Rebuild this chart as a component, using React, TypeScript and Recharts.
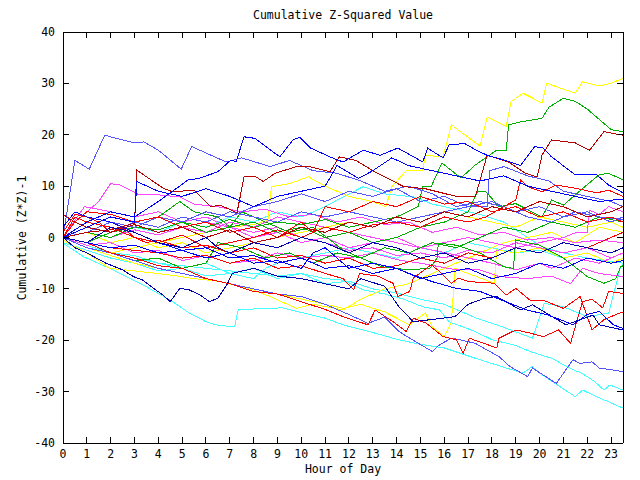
import { LineChart, Line, XAxis, YAxis } from "recharts";

type Pt = [number, number];

// colours
const RED = "#ff0000";
const DARKRED = "#b80000";
const GREEN = "#00b000";
const BLUE = "#0000ff";
const LIGHTBLUE = "#5555ff";
const NAVY = "#0000b0";
const MAGENTA = "#ff44ff";
const CYAN = "#44ffff";
const YELLOW = "#ffff00";

const hourTicks = [0, 1, 2, 3, 4, 5, 6, 7, 8, 9, 10, 11, 12, 13, 14, 15, 16, 17, 18, 19, 20, 21, 22, 23];
const valueTicks = [-40, -30, -20, -10, 0, 10, 20, 30, 40];

// [hour, cumulative value]
const blueHigh: Pt[] = [[0, 0], [0.5, 15], [1.1, 13.3], [1.75, 19.9], [3, 18.4], [3.4, 18.6], [4, 17], [4.96, 13.3], [5.4, 17.7], [6.85, 14.7], [7.5, 15.5], [8.7, 13.8], [9.5, 15], [10.5, 13], [11.5, 12.5], [12.5, 11], [13.5, 9], [14.5, 10], [15.5, 8.5], [16.5, 6], [17.5, 7], [18.5, 6], [19.5, 4], [20.5, 3], [21.5, 5], [22.5, 4], [23.5, 3.5]];
const navyHigh: Pt[] = [[0, 0], [1, 3], [2, 5], [3, 4], [4, 7], [5.25, 11.2], [5.7, 11.5], [6.5, 12.8], [7.05, 15.1], [7.26, 14.7], [7.6, 19.6], [8.05, 19.3], [9.1, 15.7], [9.65, 19], [9.93, 19.5], [10.4, 17.4], [11.2, 15.7], [11.75, 14.7], [12.6, 17], [13.3, 16], [14.05, 17.4], [15.1, 14.7], [15.3, 17.4], [15.95, 15.5], [16.2, 18], [16.85, 18.3], [17.35, 17], [17.8, 16], [18.5, 15.1], [19.2, 14], [19.8, 17.7], [20.15, 17.4], [20.5, 15.7], [21.5, 12.2], [22.4, 12.2], [22.9, 10.2], [23.5, 8.7]];
const blueUpper: Pt[] = [[0, 0], [1, 2], [2, 4], [3, 3], [3.1, 10.9], [4, 9], [5, 8], [6, 9.5], [7, 8], [8, 6], [9, 8], [10, 9], [11, 10], [11.5, 14], [12.4, 11.5], [13, 13], [13.8, 15.5], [14.5, 14], [15.5, 13], [16.5, 12], [17.5, 11], [18.5, 12], [19.5, 10], [20.5, 9], [21.5, 8], [22.5, 7], [23.5, 7.5]];
const darkRedHigh: Pt[] = [[0, 0], [1, 1], [2, 1.5], [3, 2.8], [3.1, 13.1], [4.2, 9.6], [4.6, 8.9], [5.5, 9.2], [6.2, 6], [6.6, 6.3], [7.3, 4.8], [7.6, 11.8], [8.1, 11.8], [8.4, 10.9], [8.9, 12.5], [9.8, 13.8], [10.35, 13.8], [11.2, 12.8], [11.6, 15.7], [12.3, 15], [13, 13], [14.3, 9.9], [15.2, 9.5], [16.5, 8], [17.3, 7.9], [17.8, 16], [18.7, 14.7], [19.4, 12.5], [19.9, 11.8], [20.1, 16], [20.5, 19], [21, 18.7], [21.5, 18.4], [22.1, 17], [22.7, 20.6], [23.5, 19.9]];
const yellowTop: Pt[] = [[0, 0], [1, -2], [2, -3], [3, -2], [4, -1], [5, 0], [6, 1], [7, 2], [8, 2.5], [8.6, 3.4], [8.75, 9.9], [9.5, 10.5], [10.3, 11.8], [11, 10], [12, 8], [13, 7], [13.55, 6], [13.8, 9.9], [14.4, 13], [15.1, 13], [15.2, 16], [15.95, 15.7], [16.3, 21.9], [17.5, 17.8], [17.8, 23.4], [18.6, 21.6], [18.8, 26.4], [19.3, 28.1], [20.1, 26.2], [20.3, 30], [21.5, 28.1], [21.8, 30.3], [22.5, 29.5], [23, 30], [23.5, 31]];
const greenTop: Pt[] = [[0, 0], [1, 1], [2, 0], [3, 2], [4, 1.5], [5, 3], [6, 2], [7, 3.5], [8, 2], [9, 3], [10, 2.5], [11, 3.5], [12, 2], [13, 3], [14, 4], [14.9, 6], [15.1, 9.9], [15.45, 9.9], [15.9, 14.5], [16.7, 11.6], [17.3, 14.1], [18.2, 17], [18.6, 17], [18.7, 21.9], [19.2, 22.5], [20.1, 23.2], [20.4, 25.4], [21, 27.1], [21.5, 26.5], [22, 25], [22.5, 23], [23, 21], [23.5, 20.6]];
const greenRight: Pt[] = [[0, 0], [1, -1], [2, 1], [3, 2], [4, 4], [5, 3], [6, 1], [7, 2], [8, 3], [9, 1], [10, 2], [11, 0], [12, 1], [13, -1], [14, 0], [15, 2], [16, 3], [17, 5], [17.4, 9], [17.75, 8.9], [18.3, 6], [19, 6.6], [20.1, 4], [20.5, 7.3], [21, 6.3], [21.9, 9.9], [22.5, 12.2], [22.9, 12.5], [23.5, 11.2]];
const redMid: Pt[] = [[0, 0], [0.5, 4], [1, 3], [2, 2], [3, 0], [4, -1], [5, 0.5], [6, -2], [7, -1], [8, 0], [9, 1.5], [10, 0], [11, 2], [12, 1], [13, 2.5], [14, 3], [15, 2], [16, 4], [17, 3], [17.75, 4], [18.5, 6], [19, 7.3], [19.2, 11.2], [19.5, 9.9], [20.1, 8.9], [20.7, 10.2], [21.5, 9.6], [22.4, 8.7], [22.9, 9.2], [23.5, 8]];
const redLowA: Pt[] = [[0, 0], [1, -1], [2, -3], [3, -4], [4, -5.5], [5, -6], [6, -8], [7, -9], [8, -10.5], [9, -11], [10, -12.5], [11, -14], [11.75, -15.4], [12.8, -17], [13.1, -14.1], [13.85, -16.4], [14.4, -18.3], [14.7, -15.7], [15.25, -16.7], [15.95, -19.3], [16.5, -19.9], [16.8, -22.5], [17.05, -19.6], [17.6, -20.5], [18.2, -21.5], [18.3, -19.6], [19, -18], [19.6, -18.6], [20.15, -19.3], [20.8, -18], [21.3, -20.6], [21.8, -12.5], [22.2, -12], [22.65, -13.7], [22.9, -10.5], [23.5, -10.9]];
const redLowB: Pt[] = [[0, 0], [1, -1], [2, -2], [3, -2.5], [4, -3], [5, -4], [6, -3.5], [7, -5], [8, -4], [9, -6], [10, -5.5], [11, -7], [11.75, -8], [12.2, -10.2], [12.45, -7], [13.2, -7.5], [13.85, -8.9], [14.05, -11.5], [14.55, -10.5], [14.7, -7.9], [15.45, -5.3], [15.8, -6.6], [16.3, -8.9], [16.6, -7.9], [17.05, -8.6], [18.1, -8.9], [18.6, -11.2], [19, -9.9], [19.6, -12.2], [20.15, -12.2], [21, -13.8], [21.7, -11.5], [22.2, -18], [22.7, -16], [23.2, -15], [23.5, -14.5]];
const cyanBottom: Pt[] = [[0, -1.1], [0.85, -3.7], [2.1, -6.3], [3.5, -9.6], [4.5, -12.2], [5.3, -14.7], [6, -16.4], [6.4, -17], [7.2, -17.4], [7.35, -14.1], [8.4, -13.8], [9.2, -13.7], [10.1, -14.7], [11, -15.7], [11.75, -17], [13, -18.5], [14, -19.8], [15, -20.8], [16, -21.5], [17.3, -23.5], [18.6, -25.4], [19.3, -26.4], [19.7, -25.1], [20, -26.4], [21.5, -31], [21.8, -29.7], [22.4, -31], [23.5, -33.2]];
const cyanMid: Pt[] = [[0, 0], [1, -1.5], [2, -3], [3, -3.5], [4, -5], [5, -5.5], [6, -6], [7, -6.5], [8, -7], [9, -7.5], [10, -7], [11, -8], [11.75, -8.3], [12.6, -10.2], [13.5, -11], [14.3, -12], [15.1, -13.5], [15.8, -14.1], [16.2, -16.4], [17.3, -18.3], [18, -19.9], [19, -21], [19.6, -22.2], [20.5, -23.5], [21.3, -25.5], [21.8, -26.5], [22.3, -28], [22.7, -29.7], [22.95, -28.7], [23.5, -29.7]];
const cyanRise: Pt[] = [[0, 0], [1, -1.5], [2, -3], [3, -4], [4, -5], [5, -6], [6, -5], [7, -7], [8, -6], [9, -8], [10, -7], [11, -9], [12, -8.5], [13, -10], [14, -10.8], [15, -12], [16, -13], [17.35, -15.7], [18.5, -17.5], [19.7, -19.6], [20.2, -12.8], [21, -13.5], [22, -15.4], [22.9, -14.7], [23.4, -5.7], [23.5, -5]];
const blueLow: Pt[] = [[0, 0], [1, -2], [2, -3], [3, -4.5], [4, -6], [5, -7], [6, -8], [7, -9], [8, -10], [9, -11], [10, -11.5], [11, -13], [12, -15], [12.8, -16.7], [13.5, -15.5], [14.1, -18.3], [14.55, -19.6], [15.5, -22.2], [15.8, -20.9], [16.3, -19.6], [16.65, -19.9], [17.3, -20.6], [18.3, -23.2], [18.75, -25.1], [19.5, -27.1], [19.7, -25.4], [20.7, -28.4], [21.4, -23.8], [21.7, -24.5], [22.2, -24.2], [22.5, -25.4], [23.1, -25.8], [23.5, -26.1]];
const navyLowA: Pt[] = [[0, 0], [0.5, -2], [1, -3], [1.8, -5], [2.5, -6.3], [2.95, -7.6], [3.35, -8.3], [3.8, -9.9], [4.2, -11.2], [4.5, -12.5], [4.9, -9.9], [5.3, -10.2], [5.75, -11.2], [6.15, -12.5], [6.5, -11.8], [6.9, -9], [7.1, -7], [8, -6], [9, -7.5], [10, -8], [11, -9], [12, -10], [12.5, -8], [13.5, -9.5], [14.1, -13.5], [14.7, -16.4], [15.4, -16], [16.45, -15.4], [17, -13], [17.7, -11.8], [18.2, -11.5], [19.2, -14.1], [19.7, -13.1], [21.1, -17], [22.25, -15.1], [22.5, -17], [23.5, -18]];
const navyLowB: Pt[] = [[0, 0], [1, -1], [2, -2], [3, -1.5], [4, -3], [5, -2.5], [6, -4], [7, -3], [8, -5], [9, -4.5], [10, -6], [10.5, -3], [11, -2], [11.5, -4], [12, -6], [13, -5], [14, -6], [14.7, -7.3], [15.5, -8.6], [16.5, -9.9], [17.5, -10.5], [18.75, -12.8], [19.45, -14.1], [20.3, -15], [21.1, -16.4], [21.4, -17], [22, -15], [22.5, -14.4], [23.1, -17], [23.5, -17.7]];
const magentaA: Pt[] = [[0, 0], [0.5, 3], [1, 5], [1.5, 7], [2, 10.5], [2.4, 10.2], [3.2, 8.3], [4, 8.3], [4.9, 7.9], [5.5, 6.5], [6.5, 6], [7.5, 5], [8.5, 5.5], [9.5, 4], [10.5, 4.5], [11.5, 3], [12.5, 4], [13.5, 2.5], [14.5, 3], [15.5, 1], [16.5, 2], [17.5, 0.5], [18.5, 1], [19.5, -0.5], [20.5, 0], [21.5, -1], [22.5, -0.5], [23.5, -1]];
const magentaB: Pt[] = [[0, 0], [1, -1.5], [2, -1], [3, -3], [4, -2.5], [5, -4.5], [6, -3.5], [7, -5], [8, -4.5], [9, -3], [10, -4], [11, -3.5], [12, -4], [13, -3], [14.1, -4.4], [15, -5], [16.5, -6.3], [17.5, -6.3], [18.3, -7.6], [19.5, -8], [20.5, -7.5], [21.3, -9], [21.8, -6], [22.5, -7], [23.5, -7.6]];
const magentaC: Pt[] = [[0, 0], [1, 1], [2, 0], [3, 1.5], [4, 0.5], [5, 2], [6, 1], [7, 3], [8, 2], [9, 4], [10, 3], [11, 2], [12, 1], [13, 0], [14, -1], [15, -2], [16.2, -3.1], [17, -4], [18, -5], [19, -6.3], [20, -5], [20.5, -6], [21.5, -4], [22.5, -5], [23.5, -3]];
const magentaD: Pt[] = [[0, 0], [1, 2], [2, 1], [3, 3], [4, 2], [5, 4], [6, 3], [7, 2], [8, 0], [9, 1], [10, -1], [11, 0], [12, -2], [13, -1], [14, 0], [15, -2], [16, -1], [17, 0], [18, -1], [19, -2], [20, -1], [21, 0], [21.5, 0.9], [22, 1], [22.1, 5.3], [22.5, 4.5], [22.9, 6], [23.5, 5]];
const magentaE: Pt[] = [[0, 0], [0.9, 6], [1.5, 5.5], [2, 5], [3, 4], [4, 5], [5, 3], [6, 4], [7, 2], [8, 1], [9, 2], [10, 0], [11, -1], [12, -2.5], [13, -2], [14, -3.5], [15, -3], [16, -4], [17, -2.5], [18, -3], [19, -1], [20, -2], [21, -3], [22, -2], [23, -4], [23.5, -3]];
const yellowLow: Pt[] = [[0, 0], [1, -2], [2, -3.5], [3, -5], [4, -6], [5, -7], [6, -8], [7, -9], [8, -10], [9, -11], [10, -12], [11, -13], [11.75, -13.8], [12.5, -13], [13.5, -14.5], [14.55, -17], [15.2, -14.7], [15.5, -17.4], [16, -19.3], [16.3, -16.4], [16.45, -6], [17, -7], [18.1, -8.9], [18.2, -2.4], [19, -3], [20, -2], [21, -4], [22, -3], [23, -5], [23.5, -4]];
const yellowLeft: Pt[] = [[0, -0.5], [1, -3], [1.95, -6], [3, -6.5], [4.5, -7.3], [5.5, -8], [6.5, -8.5], [7.8, -9.9], [8.7, -11.5], [9.8, -13.8], [10.5, -13], [11.75, -14.1], [12.5, -12], [13.5, -10], [14.5, -9], [15.5, -7], [16.5, -5], [17.5, -3], [18.5, -1], [19.5, 0], [20.5, 1], [21.5, -1], [22.5, 2], [23.5, 1]];
const yellowMid: Pt[] = [[0, 0], [1, 1], [2, -1], [3, 0], [4, -2], [5, -1], [6, -3], [7, -2], [8, -1], [9, 0], [10, 1], [11, 2], [12, 3], [13, 2], [14, 4], [15, 3], [16, 5], [17, 4], [18, 3], [19, 2], [20, 4], [21, 3], [22, 2], [23, 3], [23.5, 2]];
const cyanUpper: Pt[] = [[0, 0], [1, 1], [2, 0], [3, 2], [4, 1], [5, 3], [6, 2], [7, 4], [8, 3], [9, 5], [10, 4], [11, 6], [11.75, 7.9], [12.6, 9.9], [13.5, 8.5], [14.7, 7.9], [15.5, 6.5], [16.5, 5.5], [17.5, 4.5], [18.5, 3], [19.5, 0], [20.1, -1.8], [21, -3], [22, -4], [23.5, -5]];
const cyanLeft: Pt[] = [[0, -1], [1, -2.5], [2, -4], [3, -5], [4, -6.5], [5, -6], [6, -7.5], [7, -7], [8, -8], [8.5, -6], [9, -5], [10, -4], [11, -3], [12, -2], [13, -3], [14, -4], [15, -2], [16, -3], [17, -1], [18, -2], [19, -3], [20, -2.5], [21, -4], [22, -3], [23, -5], [23.5, -4]];
const greenLeft: Pt[] = [[0, 0], [1, -1], [2, 1], [3, 3], [4, 4], [4.9, 7], [5.5, 5], [6.5, 4], [7, 2], [7.5, 5], [8.5, 3], [9.5, 1], [10.5, 2], [11.75, -2.4], [12.5, -4], [13.4, -5.7], [14.5, -6.3], [15.4, -6], [15.7, -4], [15.75, -1.1], [16.5, -1.5], [17.5, -3], [18.5, -5.7], [18.9, -6], [19, -0.5], [20, -1.5], [21, -4], [22, -7.6], [22.7, -8.9], [23.2, -8], [23.4, -5.7], [23.5, -5.5]];
const greenMid: Pt[] = [[0, 0], [1, -2], [2, -3], [3, -4.5], [4, -4], [5, -6], [6, -5], [6.5, -1], [7.5, -2], [8.5, -4], [9.5, -3], [10.5, -5], [11.5, -3], [12.5, -4], [13.5, -2], [14.5, -3], [15.5, -1], [16.5, -2], [17.5, 0], [18.5, 2], [19.5, 1], [20.5, 3], [21.5, 2], [22.5, 4], [23.5, 3]];
const redUpper: Pt[] = [[0, 1], [0.5, 4.5], [1, 4], [1.5, 3], [2, 1], [2.5, 2], [3, 0], [3.5, -1], [4, -0.5], [5, -2], [6, -1.5], [7, -3], [8, -2], [9, -4], [10, -3.5], [11, -5], [12, -4], [13, -6], [14, -5.5], [15, -4], [16, -5], [17, -3], [18, -4], [19, -2], [20, -3], [21, -1], [22, -2], [23, 0], [23.5, 1]];
const redCentre: Pt[] = [[0, 0], [0.5, 3], [1, 5], [2, 4.5], [3, 3], [4, 4], [5, 2], [6, 3], [7, 1], [8, 2], [9, 0], [10, 3], [10.5, 1], [11, 6], [12, 5], [13, 7], [14, 6], [15, 8], [16, 6.5], [17, 7], [18, 5], [19, 6], [20, 4], [21, 5], [22, 3], [23, 4], [23.5, 3]];
const darkRedMid: Pt[] = [[0, 4.5], [0.5, 3], [1, 2], [2, 1], [3, 2.5], [4, 1], [5, 2], [6, 0], [7, 1.5], [8, -1], [9, 0], [10, 2], [11, 1], [12, 3], [13, 2], [14, 4], [15, 3], [16, 5], [17, 4], [18, 6], [19, 5], [20, 7], [21, 6], [22, 4], [23, 5], [23.5, 6]];
const blueMid: Pt[] = [[0, 2], [0.5, 5], [1, 4], [2, 3], [3, 1], [4, -1], [5, -2.5], [6, -2], [7, -4], [8, -3.5], [9, -5], [10, -4], [11, -6], [12, -5.5], [13, -7], [14, -6], [15, -8], [16, -7], [17, -6], [18, -8], [19, -7], [20, -5], [21, -6], [22, -4], [23, -5], [23.5, -4.5]];
const lightBlueJump: Pt[] = [[0, 0], [1, 2], [2, 1], [3, 3], [4, 2], [5, 4], [6, 3], [7, 5], [8, 4], [9, 3], [10, 5], [11, 4], [12, 5], [13, 4], [14, 3], [15, 4], [16, 5], [17, 6], [17.8, 6], [17.9, 13], [18.5, 13.8], [19.5, 12], [20.4, 11], [21, 9], [22, 8], [23, 7], [23.5, 6]];
const lightBlueMid: Pt[] = [[0, 0], [1, 1], [2, 3], [3, 2], [4, 4], [5, 3], [6, 5], [7, 4], [8, 6], [9, 7], [10, 8.5], [11, 7], [12, 9], [13, 8], [14, 9.5], [15, 7], [16, 8], [17, 6], [18, 7], [19, 5], [20, 6], [21, 4], [22, 5], [23, 3], [23.5, 4]];
const navyMid: Pt[] = [[0, 0], [1, -1], [2, 2], [3, 1], [4, -1], [5, -2], [6, 0], [6.5, -2], [7, -3], [8, -1], [9, -2], [10, 0], [11, -1], [12, -3], [13, -1], [14, -2], [15, -4], [16, -3], [17, -5], [18, -4], [19, -2], [20, -3], [21, -1], [22, -2], [23, -3], [23.5, -2]];

const series = [
  { id: "cyanBottom", color: CYAN, pts: cyanBottom },
  { id: "cyanMid", color: CYAN, pts: cyanMid },
  { id: "cyanRise", color: CYAN, pts: cyanRise },
  { id: "cyanUpper", color: CYAN, pts: cyanUpper },
  { id: "cyanLeft", color: CYAN, pts: cyanLeft },
  { id: "yellowLow", color: YELLOW, pts: yellowLow },
  { id: "yellowLeft", color: YELLOW, pts: yellowLeft },
  { id: "yellowMid", color: YELLOW, pts: yellowMid },
  { id: "yellowTop", color: YELLOW, pts: yellowTop },
  { id: "magentaA", color: MAGENTA, pts: magentaA },
  { id: "magentaB", color: MAGENTA, pts: magentaB },
  { id: "magentaC", color: MAGENTA, pts: magentaC },
  { id: "magentaD", color: MAGENTA, pts: magentaD },
  { id: "magentaE", color: MAGENTA, pts: magentaE },
  { id: "greenTop", color: GREEN, pts: greenTop },
  { id: "greenRight", color: GREEN, pts: greenRight },
  { id: "greenLeft", color: GREEN, pts: greenLeft },
  { id: "greenMid", color: GREEN, pts: greenMid },
  { id: "blueLow", color: LIGHTBLUE, pts: blueLow },
  { id: "blueHigh", color: LIGHTBLUE, pts: blueHigh },
  { id: "lightBlueJump", color: LIGHTBLUE, pts: lightBlueJump },
  { id: "lightBlueMid", color: LIGHTBLUE, pts: lightBlueMid },
  { id: "redUpper", color: RED, pts: redUpper },
  { id: "redCentre", color: RED, pts: redCentre },
  { id: "redMid", color: RED, pts: redMid },
  { id: "redLowA", color: RED, pts: redLowA },
  { id: "redLowB", color: RED, pts: redLowB },
  { id: "darkRedMid", color: DARKRED, pts: darkRedMid },
  { id: "darkRedHigh", color: DARKRED, pts: darkRedHigh },
  { id: "blueUpper", color: BLUE, pts: blueUpper },
  { id: "blueMid", color: BLUE, pts: blueMid },
  { id: "navyHigh", color: BLUE, pts: navyHigh },
  { id: "navyLowA", color: NAVY, pts: navyLowA },
  { id: "navyLowB", color: BLUE, pts: navyLowB },
  { id: "navyMid", color: NAVY, pts: navyMid },
];

const FONT = "'DejaVu Sans Mono', monospace";
const tickStyle = { fill: "#000", fontSize: 11.5, fontFamily: FONT };
const blank = () => "";

export default function App() {
  return (
    <div
      style={{
        position: "absolute",
        left: 0,
        top: 0,
        width: 640,
        height: 480,
        background: "#fff",
        shapeRendering: "crispEdges",
        fontFamily: FONT,
        color: "#000",
      }}
    >
      <LineChart width={640} height={480} margin={{ top: 31, right: 16, bottom: 0, left: 0 }}>
        <XAxis
          xAxisId="b"
          type="number"
          dataKey="h"
          domain={[0, 23.5]}
          ticks={hourTicks}
          interval={0}
          allowDataOverflow
          height={37}
          tickSize={-6}
          tickMargin={13}
          stroke="#000"
          tick={tickStyle}
        />
        <XAxis
          xAxisId="t"
          orientation="top"
          type="number"
          dataKey="h"
          domain={[0, 23.5]}
          ticks={hourTicks}
          interval={0}
          allowDataOverflow
          height={1}
          tickSize={-6}
          tickFormatter={blank}
          stroke="#000"
        />
        <YAxis
          yAxisId="l"
          type="number"
          domain={[-40, 40]}
          ticks={valueTicks}
          interval={0}
          allowDataOverflow
          width={63}
          tickSize={-6}
          tickMargin={14}
          stroke="#000"
          tick={tickStyle}
        />
        <YAxis
          yAxisId="r"
          orientation="right"
          type="number"
          domain={[-40, 40]}
          ticks={valueTicks}
          interval={0}
          allowDataOverflow
          width={1}
          tickSize={-6}
          tickFormatter={blank}
          stroke="#000"
        />
        {series.map((s) => (
          <Line
            key={s.id}
            xAxisId="b"
            yAxisId="l"
            data={s.pts.map(([h, v]) => ({ h, v }))}
            dataKey="v"
            type="linear"
            stroke={s.color}
            strokeWidth={1}
            dot={false}
            activeDot={false}
            isAnimationActive={false}
          />
        ))}
      </LineChart>
      <div style={{ position: "absolute", left: 0, top: 8, width: 686, textAlign: "center", fontSize: 11.5 }}>
        Cumulative Z-Squared Value
      </div>
      <div style={{ position: "absolute", left: 0, top: 462, width: 686, textAlign: "center", fontSize: 11.5 }}>
        Hour of Day
      </div>
      <div
        style={{
          position: "absolute",
          left: 22,
          top: 238,
          fontSize: 11.5,
          whiteSpace: "nowrap",
          transform: "translate(-50%, -50%) rotate(-90deg)",
        }}
      >
        Cumulative (Z*Z)-1
      </div>
    </div>
  );
}
